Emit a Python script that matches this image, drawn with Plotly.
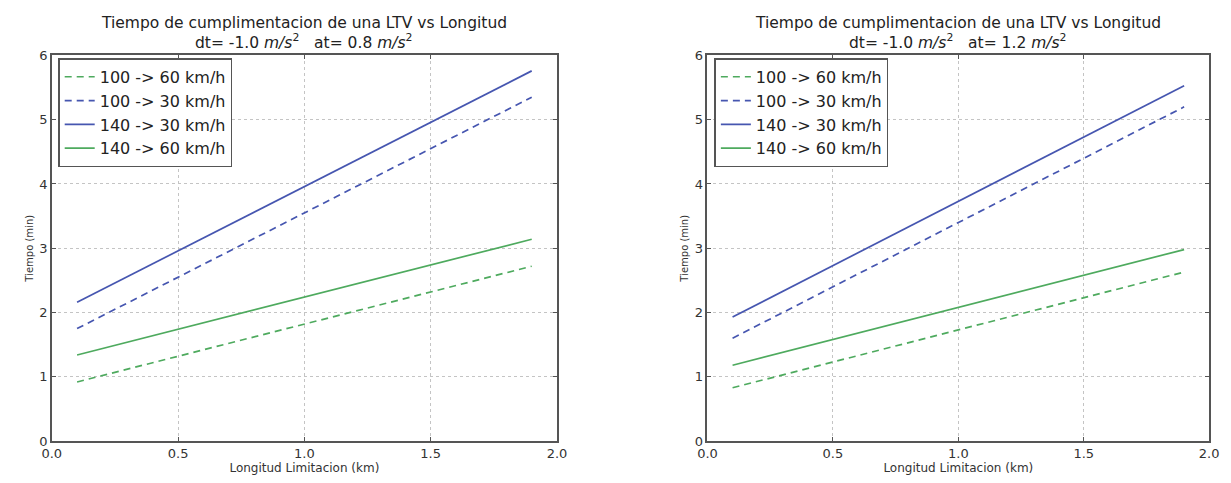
import plotly.graph_objects as go

# Longitud de la limitacion (km): inicio y fin de cada recta
longitud_km = [0.1, 1.9]

# Tiempo (min) para dt=-1.0, at=0.8
t08_100_60 = [0.92, 2.72]
t08_100_30 = [1.75, 5.35]
t08_140_30 = [2.16, 5.76]
t08_140_60 = [1.34, 3.14]

# Tiempo (min) para dt=-1.0, at=1.2
t12_100_60 = [0.83, 2.63]
t12_100_30 = [1.60, 5.20]
t12_140_30 = [1.93, 5.53]
t12_140_60 = [1.18, 2.98]

series_names = ["100 -> 60 km/h", "100 -> 30 km/h", "140 -> 30 km/h", "140 -> 60 km/h"]
x_ticks = [0.0, 0.5, 1.0, 1.5, 2.0]
y_ticks = [0, 1, 2, 3, 4, 5, 6]

BLUE = "#4656b0"
GREEN = "#4eaa5e"
FONT = "DejaVu Sans"

styles = [
    dict(color=GREEN, dash="7px,5px"),
    dict(color=BLUE, dash="7px,5px"),
    dict(color=BLUE, dash="solid"),
    dict(color=GREEN, dash="solid"),
]

fig = go.Figure()

panels = [
    ("x", "y", "legend", [t08_100_60, t08_100_30, t08_140_30, t08_140_60]),
    ("x2", "y2", "legend2", [t12_100_60, t12_100_30, t12_140_30, t12_140_60]),
]
for xa, ya, leg, ys in panels:
    for name, yv, st in zip(series_names, ys, styles):
        fig.add_trace(go.Scatter(
            x=longitud_km, y=yv, mode="lines", name=name,
            line=dict(color=st["color"], dash=st["dash"], width=1.7),
            xaxis=xa, yaxis=ya, legend=leg,
        ))

W, H = 1231, 483
left_dom = [42.5 / W, 556 / W]
right_dom = [709 / W, 1219 / W]
y_dom = [35 / H, 433 / H]

axis_common = dict(
    showline=True, mirror="ticks", linecolor="#555555", linewidth=1.5,
    ticks="inside", ticklen=4, tickcolor="#555555",
    showgrid=True, gridcolor="#c4c4c4", griddash="dot", gridwidth=1,
    zeroline=False, tickfont=dict(family=FONT, size=13, color="#333333"),
)
xaxis_common = dict(axis_common, range=[0, 2], tickvals=x_ticks, tickformat=".1f",
                    title=dict(text="Longitud Limitacion (km)",
                               font=dict(family=FONT, size=12, color="#333333"),
                               standoff=0))
yaxis_common = dict(axis_common, range=[0, 6], tickvals=y_ticks,
                    title=dict(text="Tiempo (min)",
                               font=dict(family=FONT, size=10, color="#333333"),
                               standoff=4))

legend_common = dict(
    bgcolor="white", bordercolor="#555555", borderwidth=1.5,
    font=dict(family=FONT, size=16, color="#222222"),
    xanchor="left", yanchor="top", tracegroupgap=0, itemwidth=30,
)

fig.update_layout(
    width=W, height=H,
    margin=dict(l=0, r=0, t=0, b=0),
    paper_bgcolor="white", plot_bgcolor="white",
    showlegend=True,
    xaxis=dict(xaxis_common, domain=left_dom, anchor="y"),
    yaxis=dict(yaxis_common, domain=y_dom, anchor="x"),
    xaxis2=dict(xaxis_common, domain=right_dom, anchor="y2"),
    yaxis2=dict(yaxis_common, domain=y_dom, anchor="x2"),
    legend=dict(legend_common, x=49 / W, y=1 - 53 / H),
    legend2=dict(legend_common, x=716 / W, y=1 - 53 / H),
)

title_main = "Tiempo de cumplimentacion de una LTV vs Longitud"
subtitles = [
    "dt= -1.0 <i>m/s</i><sup>2</sup>   at= 0.8 <i>m/s</i><sup>2</sup>",
    "dt= -1.0 <i>m/s</i><sup>2</sup>   at= 1.2 <i>m/s</i><sup>2</sup>",
]
for dom, sub in zip([left_dom, right_dom], subtitles):
    xc = (dom[0] + dom[1]) / 2
    fig.add_annotation(
        x=xc, y=1 - 17 / H, xref="paper", yref="paper",
        xanchor="center", yanchor="middle", showarrow=False,
        text=title_main, font=dict(family=FONT, size=15.5, color="#222222"),
    )
    fig.add_annotation(
        x=xc, y=1 - 36 / H, xref="paper", yref="paper",
        xanchor="center", yanchor="middle", showarrow=False,
        text=sub, font=dict(family=FONT, size=15.5, color="#222222"),
    )

fig.write_html("out.html")
